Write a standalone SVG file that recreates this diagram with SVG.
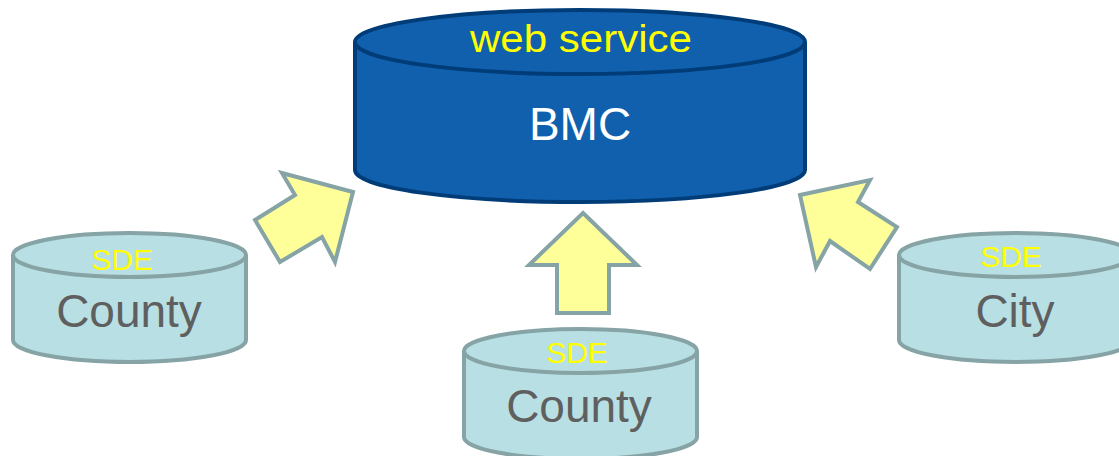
<svg xmlns="http://www.w3.org/2000/svg" width="1119" height="456" viewBox="0 0 1119 456">
<style>
.big{fill:#1060AE;stroke:#003C78;stroke-width:4}
.db{fill:#B8DFE3;stroke:#86A3A5;stroke-width:4}
.arrow{fill:#FFFF99;stroke:#86A3A5;stroke-width:4;stroke-linejoin:miter}
text{font-family:"Liberation Sans",Arial,sans-serif;text-anchor:middle}
.yl{fill:#FFFF00}
.gr{fill:#5F5F5F;font-size:46px}
.sde{font-size:30px}
</style>
<rect width="1119" height="456" fill="#FFFFFF"/>
<g id="bmc">
<path class="big" d="M355,42 L355,170 A225,32 0 0 0 805,170 L805,42"/>
<ellipse class="big" cx="580" cy="42" rx="225" ry="32"/>
<text class="yl" x="581" y="52" font-size="38" textLength="222" lengthAdjust="spacingAndGlyphs">web service</text>
<text x="580" y="140" font-size="46" fill="#FFFFFF">BMC</text>
</g>
<g id="county-left">
<path class="db" d="M13,255 L13,340 A116.5,22 0 0 0 246,340 L246,255"/>
<ellipse class="db" cx="129.5" cy="255" rx="116.5" ry="22"/>
<text class="yl sde" x="122" y="270">SDE</text>
<text class="gr" x="129" y="327">County</text>
</g>
<g id="county-middle">
<path class="db" d="M464,351 L464,437 A116.5,22 0 0 0 697,437 L697,351"/>
<ellipse class="db" cx="580.5" cy="351" rx="116.5" ry="22"/>
<text class="yl sde" x="577" y="363">SDE</text>
<text class="gr" x="579" y="422">County</text>
</g>
<g id="city">
<path class="db" d="M899,255 L899,340 A116.5,22 0 0 0 1132,340 L1132,255"/>
<ellipse class="db" cx="1015.5" cy="255" rx="116.5" ry="22"/>
<text class="yl sde" x="1011" y="267">SDE</text>
<text class="gr" x="1015" y="327">City</text>
</g>
<g id="connectors">
<polygon class="arrow" points="353,192 282,173 295,195 255,220 280,262 322,237 335,262"/>
<polygon class="arrow" points="583,213 637,265 609,265 609,313 557,313 557,265 529,265"/>
<polygon class="arrow" points="800,195 870,180 858,202 897,227 870,269 830,241 816,267"/>
</g>
</svg>
